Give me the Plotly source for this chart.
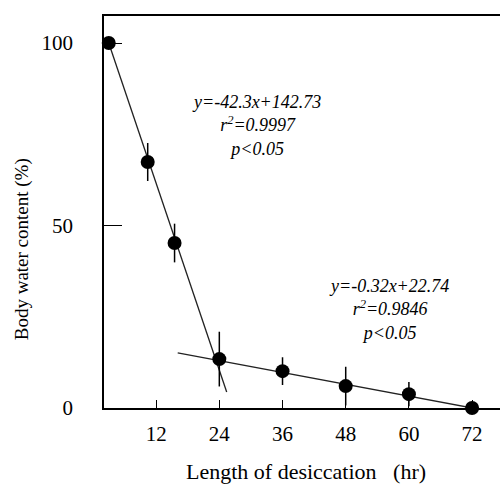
import plotly.graph_objects as go

# Data
hours = [3, 10.4, 15.5, 24, 36, 48, 60, 72]
water = [100, 67.4, 45.2, 13.4, 10.1, 6.0, 3.8, 0]
err = [0, 5.2, 5.3, 7.5, 3.8, 5.3, 3.3, 0]

fit1_x = [3, 25.4]
fit1_y = [100, 4.4]
fit2_x = [16.1, 72]
fit2_y = [15.1, 0]

x_ticks = [12, 24, 36, 48, 60, 72]
y_ticks = [0, 50, 100]

eq1 = "<i>y=-42.3x+142.73<br>r<sup>2</sup>=0.9997<br>p&lt;0.05</i>"
eq2 = "<i>y=-0.32x+22.74<br>r<sup>2</sup>=0.9846<br>p&lt;0.05</i>"

FONT = "Liberation Serif"

fig = go.Figure()
fig.add_trace(go.Scatter(x=fit1_x, y=fit1_y, mode="lines",
                         line=dict(color="#222", width=1.3), showlegend=False))
fig.add_trace(go.Scatter(x=fit2_x, y=fit2_y, mode="lines",
                         line=dict(color="#222", width=1.3), showlegend=False))
fig.add_trace(go.Scatter(x=hours, y=water, mode="markers",
                         marker=dict(color="black", size=14),
                         error_y=dict(type="data", array=err, visible=True,
                                      color="black", thickness=1.5, width=0),
                         cliponaxis=False, showlegend=False))

fig.update_layout(
    width=500, height=488,
    margin=dict(l=104, r=0, t=16, b=80),
    plot_bgcolor="white", paper_bgcolor="white",
    font=dict(family=FONT, color="black", size=20),
    xaxis=dict(range=[2.1, 77.3], tickvals=x_ticks, ticks="inside", ticklen=8,
               tickwidth=1.2, tickcolor="black", showline=True, linecolor="black",
               linewidth=1.5, mirror=True, showgrid=False, zeroline=False,
               ticklabelstandoff=6, tickfont=dict(size=21)),
    yaxis=dict(range=[0, 107.4], tickvals=y_ticks, ticks="inside", ticklen=18,
               tickwidth=1.2, tickcolor="black", showline=True, linecolor="black",
               linewidth=1.5, showgrid=False, zeroline=False,
               ticklabelstandoff=25, tickfont=dict(size=21)),
    annotations=[
        dict(x=31.1, y=77.5, xref="x", yref="y", text=eq1, showarrow=False,
             font=dict(size=18), align="center"),
        dict(x=56.3, y=27.1, xref="x", yref="y", text=eq2, showarrow=False,
             font=dict(size=18), align="center"),
        dict(x=-0.207, y=0.405, xref="paper", yref="paper",
             text="Body water content (%)", textangle=-90, showarrow=False,
             font=dict(size=19), xanchor="center", yanchor="middle"),
        dict(x=0.51, y=-0.163, xref="paper", yref="paper",
             text="Length of desiccation &nbsp; (hr)", showarrow=False,
             font=dict(size=22), xanchor="center", yanchor="middle"),
    ],
)

fig.write_html("out.html", config={"displayModeBar": False},
               post_script="document.body.style.margin='0';document.body.style.overflow='hidden';")
